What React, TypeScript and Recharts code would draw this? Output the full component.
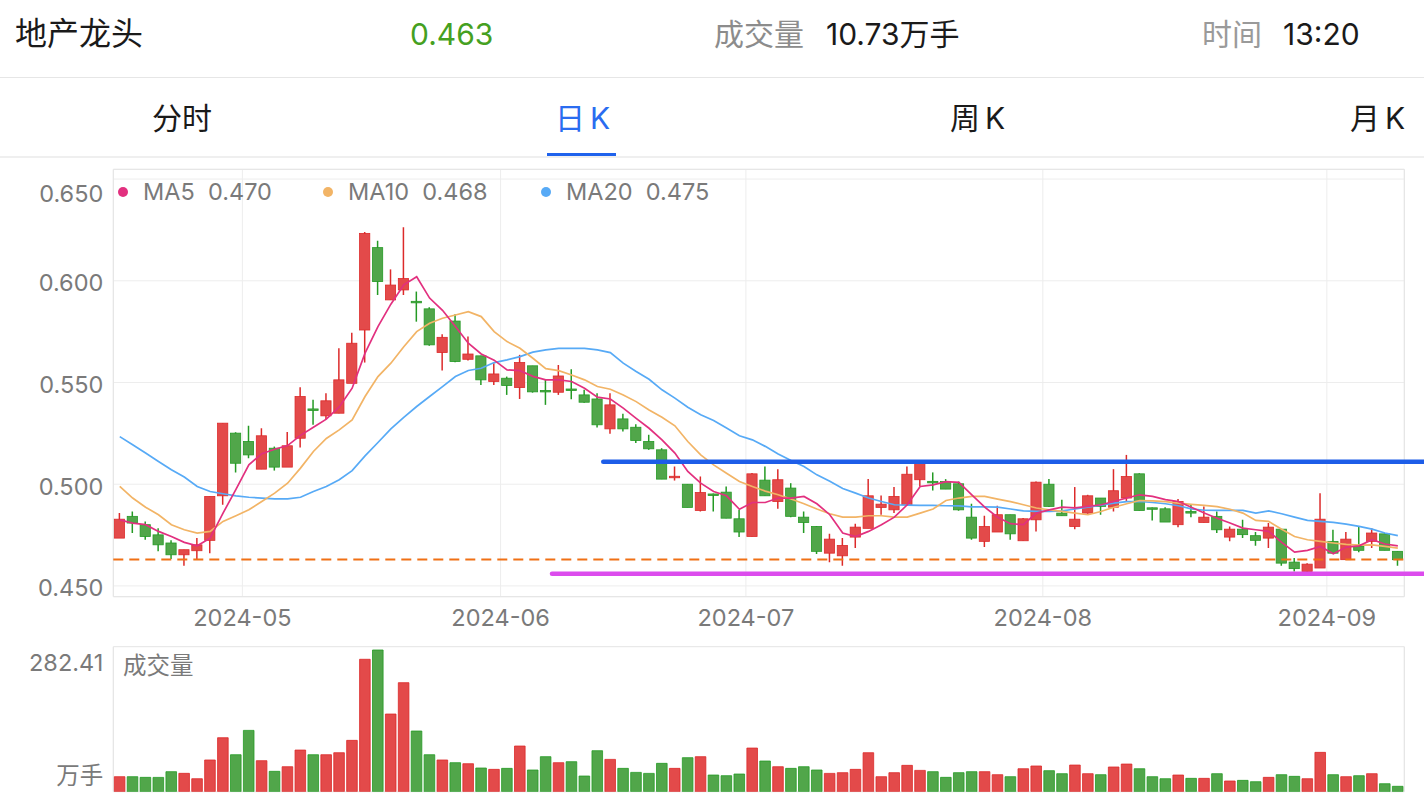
import React from 'react'
import {
  ComposedChart, Bar, Line, XAxis, YAxis, CartesianGrid,
  ReferenceLine, ReferenceArea, Cell,
} from 'recharts'

// ─── data ────────────────────────────────────────────────────────────────────

const openP = [
  0.4735, 0.4842, 0.4801, 0.4751, 0.4711, 0.4653, 0.4673, 0.4724, 0.4943, 0.5251,
  0.5210, 0.5074, 0.5177, 0.5084, 0.5226, 0.5370, 0.5336, 0.5349, 0.5496, 0.5758,
  0.6163, 0.5906, 0.5955, 0.5899, 0.5862, 0.5647, 0.5802, 0.5614, 0.5631, 0.5505,
  0.5521, 0.5475, 0.5582, 0.5461, 0.5452, 0.5468, 0.5439, 0.5419, 0.5272, 0.5321,
  0.5280, 0.5210, 0.5169, 0.5037, 0.5000, 0.4871, 0.4952, 0.4961, 0.4830, 0.4743,
  0.5020, 0.4915, 0.4981, 0.4838, 0.4792, 0.4661, 0.4648, 0.4740, 0.4783, 0.4886,
  0.4874, 0.4899, 0.5022, 0.5014, 0.5013, 0.5002, 0.4838, 0.4719, 0.4765, 0.4850,
  0.4722, 0.4825, 0.5000, 0.4858, 0.4792, 0.4858, 0.4932, 0.4887, 0.4932, 0.5051,
  0.4884, 0.4879, 0.4801, 0.4866, 0.4812, 0.4842, 0.4740, 0.4779, 0.4747, 0.4735,
  0.4779, 0.4617, 0.4571, 0.4588, 0.4719, 0.4629, 0.4694, 0.4719, 0.4756, 0.4670,
]
const highP = [
  0.4858, 0.4866, 0.4817, 0.4784, 0.4724, 0.4678, 0.4735, 0.4940, 0.5300, 0.5255,
  0.5287, 0.5275, 0.5185, 0.5257, 0.5477, 0.5415, 0.5447, 0.5668, 0.5745, 0.6240,
  0.6197, 0.6056, 0.6263, 0.5947, 0.5870, 0.5737, 0.5835, 0.5726, 0.5631, 0.5595,
  0.5529, 0.5636, 0.5582, 0.5513, 0.5586, 0.5565, 0.5464, 0.5447, 0.5447, 0.5346,
  0.5295, 0.5243, 0.5177, 0.5087, 0.5000, 0.5038, 0.4954, 0.4989, 0.4874, 0.5055,
  0.5087, 0.5074, 0.5005, 0.4866, 0.4795, 0.4756, 0.4735, 0.4806, 0.5025, 0.4945,
  0.4986, 0.5087, 0.5110, 0.5058, 0.5025, 0.5013, 0.4904, 0.4845, 0.4894, 0.4850,
  0.4834, 0.5013, 0.5025, 0.4923, 0.4986, 0.4948, 0.4932, 0.5074, 0.5144, 0.5054,
  0.4886, 0.4887, 0.4927, 0.4903, 0.4891, 0.4866, 0.4792, 0.4825, 0.4765, 0.4809,
  0.4779, 0.4637, 0.4612, 0.4956, 0.4776, 0.4765, 0.4792, 0.4784, 0.4760, 0.4670,
]
const lowP = [
  0.4735, 0.4760, 0.4727, 0.4670, 0.4632, 0.4599, 0.4629, 0.4661, 0.4899, 0.5058,
  0.5128, 0.5074, 0.5067, 0.5084, 0.5180, 0.5292, 0.5320, 0.5349, 0.5496, 0.5598,
  0.5930, 0.5906, 0.5930, 0.5799, 0.5680, 0.5559, 0.5600, 0.5608, 0.5488, 0.5488,
  0.5439, 0.5419, 0.5450, 0.5390, 0.5439, 0.5418, 0.5400, 0.5279, 0.5248, 0.5259,
  0.5202, 0.5169, 0.5025, 0.5018, 0.4886, 0.4866, 0.4866, 0.4833, 0.4740, 0.4743,
  0.4943, 0.4879, 0.4838, 0.4760, 0.4657, 0.4616, 0.4599, 0.4686, 0.4783, 0.4850,
  0.4858, 0.4899, 0.4989, 0.4969, 0.4976, 0.4870, 0.4727, 0.4691, 0.4765, 0.4727,
  0.4722, 0.4768, 0.4888, 0.4845, 0.4779, 0.4855, 0.4850, 0.4866, 0.4915, 0.4871,
  0.4822, 0.4814, 0.4788, 0.4838, 0.4812, 0.4760, 0.4719, 0.4735, 0.4698, 0.4686,
  0.4599, 0.4571, 0.4560, 0.4588, 0.4661, 0.4629, 0.4665, 0.4686, 0.4675, 0.4599,
]
const closeP = [
  0.4828, 0.4809, 0.4743, 0.4702, 0.4653, 0.4678, 0.4702, 0.4940, 0.5300, 0.5103,
  0.5144, 0.5238, 0.5084, 0.5189, 0.5431, 0.5368, 0.5410, 0.5513, 0.5693, 0.6233,
  0.5996, 0.5979, 0.6011, 0.5897, 0.5685, 0.5722, 0.5603, 0.5640, 0.5513, 0.5542,
  0.5485, 0.5598, 0.5454, 0.5459, 0.5532, 0.5466, 0.5403, 0.5292, 0.5390, 0.5272,
  0.5215, 0.5174, 0.5025, 0.5039, 0.4886, 0.4959, 0.4950, 0.4833, 0.4765, 0.5051,
  0.4943, 0.5022, 0.4842, 0.4812, 0.4670, 0.4730, 0.4699, 0.4789, 0.4943, 0.4902,
  0.4940, 0.5049, 0.5104, 0.5012, 0.4976, 0.4874, 0.4735, 0.4792, 0.4850, 0.4756,
  0.4830, 0.5010, 0.4891, 0.4845, 0.4828, 0.4943, 0.4891, 0.4968, 0.5038, 0.4871,
  0.4882, 0.4814, 0.4915, 0.4858, 0.4838, 0.4776, 0.4779, 0.4752, 0.4724, 0.4789,
  0.4612, 0.4585, 0.4607, 0.4828, 0.4661, 0.4730, 0.4675, 0.4760, 0.4675, 0.4629,
]
// 成交量, 万手
const volume = [
  29.9, 29.9, 28.6, 28.5, 39.9, 36.6, 25.9, 63.2, 107.6, 73.7,
  122.2, 61.8, 40.6, 49.8, 83.0, 73.7, 73.7, 77.7, 102.3, 263.9,
  282.41, 154.8, 217.3, 120.9, 73.7, 63.2, 57.8, 55.8, 47.2, 44.5,
  46.5, 91.0, 43.2, 69.8, 57.8, 59.8, 31.2, 81.7, 64.4, 46.5,
  38.5, 36.5, 56.5, 46.5, 67.8, 69.8, 33.2, 31.9, 35.2, 87.0,
  61.1, 49.8, 46.5, 49.8, 43.2, 36.5, 37.9, 44.5, 77.7, 29.9,
  37.9, 52.5, 42.5, 39.9, 28.6, 37.9, 39.9, 39.9, 33.9, 29.9,
  45.8, 51.2, 41.9, 35.9, 53.1, 35.9, 33.9, 49.2, 55.1, 45.8,
  29.9, 25.9, 33.2, 26.6, 26.6, 35.9, 21.3, 22.6, 19.9, 28.6,
  33.9, 30.6, 25.9, 78.4, 33.9, 29.9, 31.9, 35.9, 15.9, 10.73,
]
const ma5 = [
  0.4825, 0.4809, 0.4801, 0.4768, 0.4743, 0.4714, 0.4697, 0.4735, 0.4858, 0.4975,
  0.5095, 0.5150, 0.5172, 0.5190, 0.5240, 0.5280, 0.5320, 0.5380, 0.5472, 0.5644,
  0.5775, 0.5885, 0.5980, 0.6020, 0.5915, 0.5855, 0.5775, 0.5693, 0.5640, 0.5610,
  0.5562, 0.5558, 0.5530, 0.5513, 0.5513, 0.5505, 0.5472, 0.5428, 0.5419, 0.5374,
  0.5324, 0.5275, 0.5218, 0.5153, 0.5063, 0.5005, 0.4964, 0.4943, 0.4877, 0.4910,
  0.4910, 0.4932, 0.4932, 0.4940, 0.4904, 0.4850, 0.4760, 0.4743, 0.4768, 0.4801,
  0.4838, 0.4899, 0.4989, 0.4997, 0.5013, 0.5009, 0.4948, 0.4887, 0.4838, 0.4806,
  0.4801, 0.4858, 0.4874, 0.4887, 0.4884, 0.4891, 0.4899, 0.4915, 0.4932, 0.4948,
  0.4940, 0.4924, 0.4915, 0.4887, 0.4858, 0.4833, 0.4809, 0.4784, 0.4776, 0.4768,
  0.4714, 0.4666, 0.4675, 0.4694, 0.4658, 0.4691, 0.4697, 0.4727, 0.4706, 0.4697,
]
const ma10 = [
  0.4989, 0.4932, 0.4887, 0.4850, 0.4801, 0.4776, 0.4760, 0.4768, 0.4817, 0.4845,
  0.4874, 0.4915, 0.4956, 0.5005, 0.5079, 0.5161, 0.5225, 0.5267, 0.5316, 0.5431,
  0.5529, 0.5595, 0.5676, 0.5750, 0.5791, 0.5816, 0.5832, 0.5848, 0.5824, 0.5750,
  0.5701, 0.5668, 0.5619, 0.5568, 0.5558, 0.5537, 0.5513, 0.5480, 0.5467, 0.5439,
  0.5406, 0.5365, 0.5329, 0.5287, 0.5210, 0.5144, 0.5095, 0.5054, 0.5013, 0.4989,
  0.4966, 0.4948, 0.4927, 0.4904, 0.4878, 0.4855, 0.4838, 0.4838, 0.4845, 0.4845,
  0.4838, 0.4838, 0.4858, 0.4878, 0.4920, 0.4932, 0.4940, 0.4940, 0.4927, 0.4914,
  0.4899, 0.4883, 0.4874, 0.4866, 0.4858, 0.4850, 0.4866, 0.4887, 0.4904, 0.4920,
  0.4918, 0.4914, 0.4907, 0.4901, 0.4896, 0.4890, 0.4877, 0.4858, 0.4822, 0.4817,
  0.4779, 0.4743, 0.4727, 0.4719, 0.4711, 0.4704, 0.4701, 0.4702, 0.4694, 0.4686,
]
const ma20 = [
  0.5234, 0.5194, 0.5153, 0.5112, 0.5071, 0.5035, 0.4989, 0.4964, 0.4953, 0.4943,
  0.4936, 0.4932, 0.4928, 0.4928, 0.4936, 0.4964, 0.4989, 0.5022, 0.5067, 0.5139,
  0.5205, 0.5272, 0.5329, 0.5382, 0.5431, 0.5480, 0.5529, 0.5559, 0.5570, 0.5598,
  0.5611, 0.5627, 0.5649, 0.5660, 0.5668, 0.5668, 0.5668, 0.5660, 0.5647, 0.5595,
  0.5554, 0.5516, 0.5464, 0.5423, 0.5378, 0.5341, 0.5313, 0.5276, 0.5238, 0.5218,
  0.5186, 0.5149, 0.5117, 0.5087, 0.5046, 0.5014, 0.4979, 0.4956, 0.4932, 0.4915,
  0.4899, 0.4897, 0.4896, 0.4896, 0.4894, 0.4893, 0.4889, 0.4889, 0.4887, 0.4878,
  0.4869, 0.4866, 0.4866, 0.4869, 0.4878, 0.4887, 0.4897, 0.4907, 0.4914, 0.4915,
  0.4910, 0.4904, 0.4894, 0.4879, 0.4872, 0.4871, 0.4871, 0.4871, 0.4858, 0.4869,
  0.4855, 0.4838, 0.4822, 0.4817, 0.4812, 0.4804, 0.4793, 0.4779, 0.4760, 0.4747,
]

const monthLabels = ['2024-05', '2024-06', '2024-07', '2024-08', '2024-09']
const monthStart = [10, 30, 49, 72, 94] // index of first trading day
const priceTicks = [0.45, 0.5, 0.55, 0.6, 0.65]
const volTicks = [0, 282.41]
const lastPrice = 0.463

// hand-drawn support / resistance lines: start index, end index, price
const trendStart = [37.45, 33.48]
const trendEnd = [101, 101]
const trendPrice = [0.511, 0.456]

const maNames = ['MA5', 'MA10', 'MA20']
const maLast = ['0.470', '0.468', '0.475']

// ─── styles ──────────────────────────────────────────────────────────────────

const FONT = 'Inter, "Noto Sans CJK SC", sans-serif'
const UP_FILL = '#e34a4a'
const UP_LINE = '#dc2a2a'
const DOWN_FILL = '#51a64a'
const DOWN_LINE = '#249a24'
const MA_COLORS = ['#e2307f', '#f2b466', '#57aaf6']
const TREND_COLORS = ['#1d5de8', '#dc4ced']
const GRID = '#ededed'
const BORDER = '#e4e4e4'
const AXIS_TEXT = '#7a7a7a'
const AXIS_SIZE = 23.5

const Y_MIN = 0.4447
const Y_MAX = 0.6548
const VOL_MAX = 289

const rows = closeP.map((c, i) => ({
  i,
  open: openP[i],
  high: highP[i],
  low: lowP[i],
  close: c,
  range: [lowP[i], highP[i]],
  vol: volume[i],
  ma5: ma5[i],
  ma10: ma10[i],
  ma20: ma20[i],
}))

const xTicks = monthStart.map((s) => s - 0.5)

// ─── pieces ──────────────────────────────────────────────────────────────────

function Candle(props: any) {
  const { x, y, width, height, payload } = props
  const { open, close, high, low } = payload
  const up = close > open
  const k = height / (high - low)
  const py = (v: number) => y + (high - v) * k
  const top = py(Math.max(open, close))
  const bottom = py(Math.min(open, close))
  const cx = x + width / 2
  return (
    <g>
      <line x1={cx} x2={cx} y1={y} y2={y + height} stroke={up ? UP_LINE : DOWN_LINE} strokeWidth={1.5} />
      <rect
        x={x} y={top} width={width} height={Math.max(bottom - top, 1.5)}
        fill={up ? UP_FILL : DOWN_FILL} stroke={up ? UP_LINE : DOWN_LINE} strokeWidth={0.8}
      />
    </g>
  )
}

function MonthTick({ x, y, payload }: any) {
  const label = monthLabels[xTicks.indexOf(payload.value)]
  return (
    <text x={x} y={y + 29.5} textAnchor="middle" fill={AXIS_TEXT} fontSize={AXIS_SIZE} fontFamily={FONT}>
      {label}
    </text>
  )
}

function PriceTick({ x, y, payload }: any) {
  const top = payload.value === priceTicks[priceTicks.length - 1]
  return (
    <text x={x - 10} y={y + (top ? 22.5 : 10.5)} textAnchor="end" fill={AXIS_TEXT} fontSize={AXIS_SIZE} fontFamily={FONT}>
      {payload.value.toFixed(3)}
    </text>
  )
}

function VolTick({ x, y, payload }: any) {
  const isMax = payload.value > 0
  return (
    <text x={x - 10} y={y + (isMax ? 20.5 : -8)} textAnchor="end" fill={AXIS_TEXT} fontSize={AXIS_SIZE} fontFamily={FONT}>
      {isMax ? payload.value.toFixed(2) : '万手'}
    </text>
  )
}

function Txt({ left, top, size = 30, color = '#1a1a1a', children }: any) {
  return (
    <div style={{
      position: 'absolute', left, top: top - size / 2, fontSize: size, lineHeight: `${size}px`,
      color, fontFamily: FONT, whiteSpace: 'nowrap',
    }}>
      {children}
    </div>
  )
}

const legendX = [123, 328, 546]

export default function App() {
  return (
    <div style={{ position: 'absolute', left: 0, top: 0, width: 1424, height: 804, background: '#fff', overflow: 'hidden' }}>
      {/* header */}
      <Txt left={15} top={34} size={32}>地产龙头</Txt>
      <Txt left={410} top={34} color="#45a021">0.463</Txt>
      <Txt left={714} top={34} color="#8c8c8c">成交量</Txt>
      <Txt left={826} top={34}>10.73万手</Txt>
      <Txt left={1202} top={34} color="#9a9a9a">时间</Txt>
      <Txt left={1283} top={34}>13:20</Txt>
      <div style={{ position: 'absolute', left: 0, top: 77, width: 1424, height: 1, background: '#e6e6e6' }} />

      <Txt left={152} top={118}>分时</Txt>
      <Txt left={555} top={118} color="#2a6cf0">日&#x2006;K</Txt>
      <Txt left={950} top={118}>周&#x2006;K</Txt>
      <Txt left={1350} top={118}>月&#x2006;K</Txt>
      <div style={{ position: 'absolute', left: 547, top: 153, width: 69, height: 3.5, background: '#1f62ec' }} />
      <div style={{ position: 'absolute', left: 0, top: 156, width: 1424, height: 2, background: '#efefef' }} />

      {/* price chart */}
      <div style={{ position: 'absolute', left: 0, top: 160 }}>
        <ComposedChart width={1424} height={480} data={rows} margin={{ top: 9.3, right: 19.7, bottom: 0, left: 0 }}>
          <CartesianGrid stroke={GRID} />
          <ReferenceArea x1={-0.5} x2={99.5} y1={Y_MIN} y2={Y_MAX} fill="none" stroke={BORDER} ifOverflow="visible" />
          <XAxis
            type="number" dataKey="i" domain={[-0.5, 99.5]} ticks={xTicks} interval={0}
            height={43.3} axisLine={false} tickLine={false} tickSize={0} tickMargin={0}
            tick={(p: any) => <MonthTick {...p} />} allowDataOverflow
          />
          <YAxis
            type="number" domain={[Y_MIN, Y_MAX]} ticks={priceTicks} interval={0} width={113.3}
            axisLine={false} tickLine={false} tickSize={0} tickMargin={0}
            tick={(p: any) => <PriceTick {...p} />} allowDataOverflow
          />
          <Bar dataKey="range" barSize={10.2} shape={(p: any) => <Candle {...p} />} isAnimationActive={false} />
          <Line dataKey="ma20" stroke={MA_COLORS[2]} strokeWidth={1.7} dot={false} isAnimationActive={false} />
          <Line dataKey="ma10" stroke={MA_COLORS[1]} strokeWidth={1.7} dot={false} isAnimationActive={false} />
          <Line dataKey="ma5" stroke={MA_COLORS[0]} strokeWidth={1.7} dot={false} isAnimationActive={false} />
          <ReferenceLine y={lastPrice} stroke="#f07015" strokeWidth={2} strokeDasharray="10 6" />
          {trendPrice.map((p, k) => (
            <ReferenceLine
              key={k}
              segment={[{ x: trendStart[k], y: p }, { x: trendEnd[k], y: p }]}
              stroke={TREND_COLORS[k]} strokeWidth={4.5} strokeLinecap="round" ifOverflow="visible"
            />
          ))}
        </ComposedChart>
      </div>

      {/* legend */}
      {maNames.map((n, k) => (
        <React.Fragment key={n}>
          <div style={{
            position: 'absolute', left: legendX[k] - 5, top: 187, width: 10, height: 10,
            borderRadius: 5, background: MA_COLORS[k],
          }} />
          <Txt left={legendX[k] + 20} top={192} size={AXIS_SIZE} color={AXIS_TEXT}>
            {n}&nbsp;&nbsp;{maLast[k]}
          </Txt>
        </React.Fragment>
      ))}

      {/* volume chart */}
      <div style={{ position: 'absolute', left: 0, top: 640 }}>
        <ComposedChart width={1424} height={164} data={rows} margin={{ top: 6.7, right: 19.7, bottom: 12.3, left: 0 }}>
          <CartesianGrid stroke={GRID} horizontal={false} />
          <ReferenceArea x1={-0.5} x2={99.5} y1={0} y2={VOL_MAX} fill="none" stroke={BORDER} ifOverflow="visible" />
          <XAxis
            type="number" dataKey="i" domain={[-0.5, 99.5]} ticks={xTicks} interval={0}
            height={0} axisLine={false} tickLine={false} tick={false} allowDataOverflow
          />
          <YAxis
            type="number" domain={[0, VOL_MAX]} ticks={volTicks} interval={0} width={113.3}
            axisLine={false} tickLine={false} tickSize={0} tickMargin={0}
            tick={(p: any) => <VolTick {...p} />} allowDataOverflow
          />
          <Bar dataKey="vol" barSize={10.6} isAnimationActive={false}>
            {rows.map((r) => (
              <Cell
                key={r.i}
                fill={r.close > r.open ? UP_FILL : DOWN_FILL}
                stroke={r.close > r.open ? UP_LINE : DOWN_LINE}
                strokeWidth={0.8}
              />
            ))}
          </Bar>
        </ComposedChart>
      </div>
      <Txt left={123} top={666} size={AXIS_SIZE} color={AXIS_TEXT}>成交量</Txt>
    </div>
  )
}
